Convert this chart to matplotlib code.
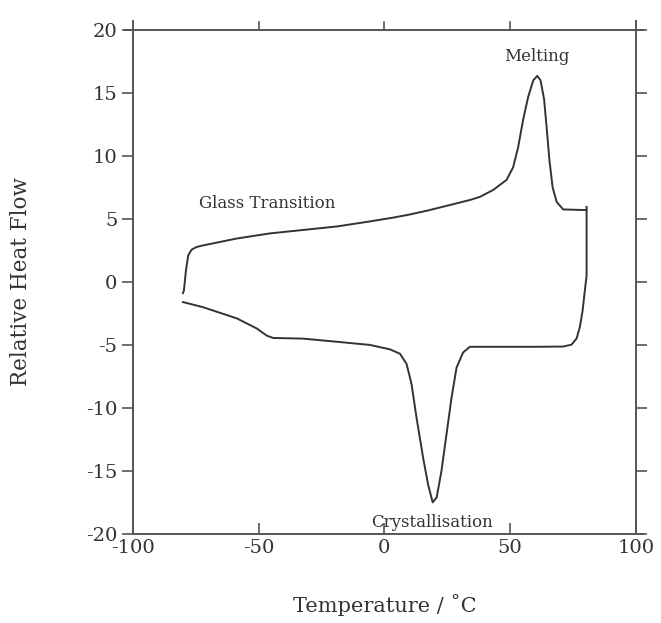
import numpy as np
from matplotlib import pyplot as plt

# heating scan (upper trace), temperature in C and relative heat flow
heat_T = np.array([-80.1, -79.7, -78.9, -78.0, -76.7, -74.7, -72.0, -65.4, -58.8, -45.5,
                   -32.4, -18.9, -5.8, 3.4, 10.1, 16.9, 25.0, 30.0, 34.0, 38.0, 43.3,
                   48.6, 51.2, 53.2, 55.2, 57.2, 59.2, 60.8, 62.1, 63.5, 64.5, 65.6,
                   66.9, 68.5, 71.1, 80.4, 80.4])
heat_H = np.array([-0.9, -0.68, 0.9, 2.1, 2.55, 2.77, 2.9, 3.17, 3.44, 3.85,
                   4.12, 4.4, 4.8, 5.1, 5.35, 5.65, 6.05, 6.3, 6.5, 6.75, 7.3,
                   8.1, 9.1, 10.7, 12.9, 14.7, 16.0, 16.35, 16.0, 14.5, 12.3, 9.7,
                   7.5, 6.35, 5.75, 5.7, 5.95])

# cooling scan (lower trace)
cool_T = np.array([80.4, 80.4, 79.7, 78.8, 77.7, 76.4, 74.4, 71.1, 60.0, 45.0, 38.0, 34.0,
                   31.3, 28.7, 26.7, 24.7, 22.7, 20.8, 19.2, 17.4, 15.4, 12.8, 10.8, 8.8,
                   6.2, 2.2, -5.8, -18.9, -32.4, -44.2, -46.8, -50.7, -58.6, -72.2, -80.1])
cool_H = np.array([5.7, 0.5, -0.7, -2.3, -3.6, -4.5, -4.98, -5.13, -5.15, -5.15, -5.15, -5.15,
                   -5.6, -6.8, -9.2, -12.1, -15.0, -17.1, -17.5, -16.1, -13.95, -10.8, -8.1, -6.5,
                   -5.7, -5.35, -5.0, -4.75, -4.5, -4.45, -4.26, -3.7, -2.9, -2.0, -1.6])

xticks = [-100, -50, 0, 50, 100]
yticks = [-20, -15, -10, -5, 0, 5, 10, 15, 20]

plt.rcParams['font.family'] = ['DejaVu Serif']
plt.rcParams['axes.unicode_minus'] = False
fig = plt.figure(figsize=(6.61, 6.23), dpi=100)
ax = fig.add_axes([0.201, 0.143, 0.761, 0.809])

ax.plot(heat_T, heat_H, color='#333333', linewidth=1.4)
ax.plot(cool_T, cool_H, color='#333333', linewidth=1.4)

ax.set_xlim(-100, 100)
ax.set_ylim(-20, 20)
ax.set_xticks(xticks)
ax.set_yticks(yticks)
ax.tick_params(axis='y', which='both', direction='out', length=8, width=1.2,
               color='#555555', labelsize=14, labelcolor='#333333', right=True, pad=3)
ax.tick_params(axis='x', which='both', direction='in', length=8, width=1.2,
               color='#555555', labelsize=14, labelcolor='#333333', pad=4)

for s in ax.spines.values():
    s.set_color('#555555')
    s.set_linewidth(1.4)
ax.spines['left'].set_bounds(-20, 20.7)
ax.spines['right'].set_bounds(-20, 20.7)
ax.spines['top'].set_bounds(-103, 103)
ax.spines['bottom'].set_bounds(-100, 103)

# outward ticks along the top
for t in xticks[1:-1]:
    ax.plot([t, t], [20, 20.65], color='#555555', linewidth=1.2, clip_on=False)

ax.text(-46.7, 6.25, 'Glass Transition', fontsize=12, color='#333333', ha='center', va='center')
ax.text(60.6, 17.9, 'Melting', fontsize=12, color='#333333', ha='center', va='center')
ax.text(19, -19.1, 'Crystallisation', fontsize=12, color='#333333', ha='center', va='center')

ax.set_xlabel('Temperature / ˚C', fontsize=15, color='#333333', labelpad=26)
ax.set_ylabel('Relative Heat Flow', fontsize=15.5, color='#333333', labelpad=39)

fig.savefig('out.png', dpi=100, facecolor='white')
